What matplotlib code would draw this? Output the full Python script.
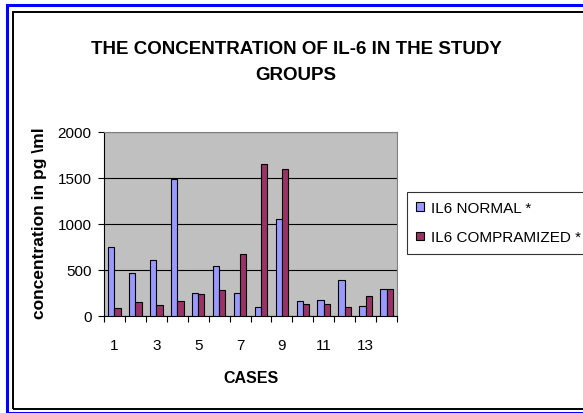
import numpy as np
import matplotlib.pyplot as plt
from matplotlib.patches import Rectangle

plt.rcParams['font.family'] = ['Liberation Sans', 'DejaVu Sans']

cases = np.arange(1, 15)
il6_normal = [755, 467, 613, 1485, 255, 547, 248, 102, 1055, 164, 179, 390, 113, 295]
il6_comp = [91, 153, 124, 168, 234, 285, 679, 1652, 1598, 128, 128, 102, 219, 295]
series_names = ['IL6 NORMAL *', 'IL6 COMPRAMIZED *']
colors = ['#9999FF', '#993366']

fig = plt.figure(figsize=(5.83, 4.14), dpi=100)

# outer frames
fig.patches.append(Rectangle((7/583, 0.0), 1, 1 - 6/414, transform=fig.transFigure,
                             fill=False, edgecolor='#0000FF', linewidth=2.2))
fig.patches.append(Rectangle((13/583, 4/414), 1, 1 - 17/414, transform=fig.transFigure,
                             fill=False, edgecolor='black', linewidth=1.4))

ax = fig.add_axes([104/583, 1 - 317/414, 293/583, 184/414])
ax.set_facecolor('#C0C0C0')

w = 0.3
x = np.arange(len(cases))
ax.bar(x - w/2, il6_normal, w, color=colors[0], edgecolor='black', linewidth=0.8,
       label=series_names[0], zorder=3)
ax.bar(x + w/2, il6_comp, w, color=colors[1], edgecolor='black', linewidth=0.8,
       label=series_names[1], zorder=3)

ax.set_xlim(-0.5, len(cases) - 0.5)
ax.set_ylim(0, 2000)
ax.set_yticks([0, 500, 1000, 1500, 2000])
ax.yaxis.grid(True, color='black', linewidth=0.8, zorder=1)

# category ticks between groups, labels on odd cases
ax.set_xticks(np.arange(-0.5, len(cases)), minor=False)
ax.set_xticklabels([])
ax.set_xticks(x[::2], minor=True)
ax.set_xticklabels([str(c) for c in cases[::2]], minor=True)
ax.tick_params(axis='x', which='major', length=4, direction='out', width=0.8)
ax.tick_params(axis='x', which='minor', length=0, pad=16, labelsize=11)
ax.tick_params(axis='y', length=4, width=0.8, labelsize=11, pad=5)

for s in ['top', 'right']:
    ax.spines[s].set_color('#808080')
for s in ['left', 'bottom']:
    ax.spines[s].set_color('black')

ax.set_xlabel('CASES', fontsize=11.5, fontweight='bold')
ax.xaxis.set_label_coords(0.5, -(371 - 317) / 184)
ax.set_ylabel('concentration in pg \\ml', fontsize=12.5, fontweight='bold')
ax.yaxis.set_label_coords(-(104 - 47) / 293, (317 - 223) / 184)

fig.text(296/583, 1 - 50/414, 'THE CONCENTRATION OF IL-6 IN THE STUDY',
         ha='center', va='center', fontsize=13.5, fontweight='bold')
fig.text(296/583, 1 - 76/414, 'GROUPS',
         ha='center', va='center', fontsize=13.5, fontweight='bold')

leg = fig.legend(loc='upper left', bbox_to_anchor=(407/583, 1 - 193/414),
                 fontsize=11, frameon=True, fancybox=False, edgecolor='black',
                 handlelength=0.5, handleheight=0.5, handletextpad=0.5,
                 borderpad=0.6, labelspacing=1.0, borderaxespad=0)
leg.get_frame().set_linewidth(0.8)

fig.savefig('out.png', dpi=100)
